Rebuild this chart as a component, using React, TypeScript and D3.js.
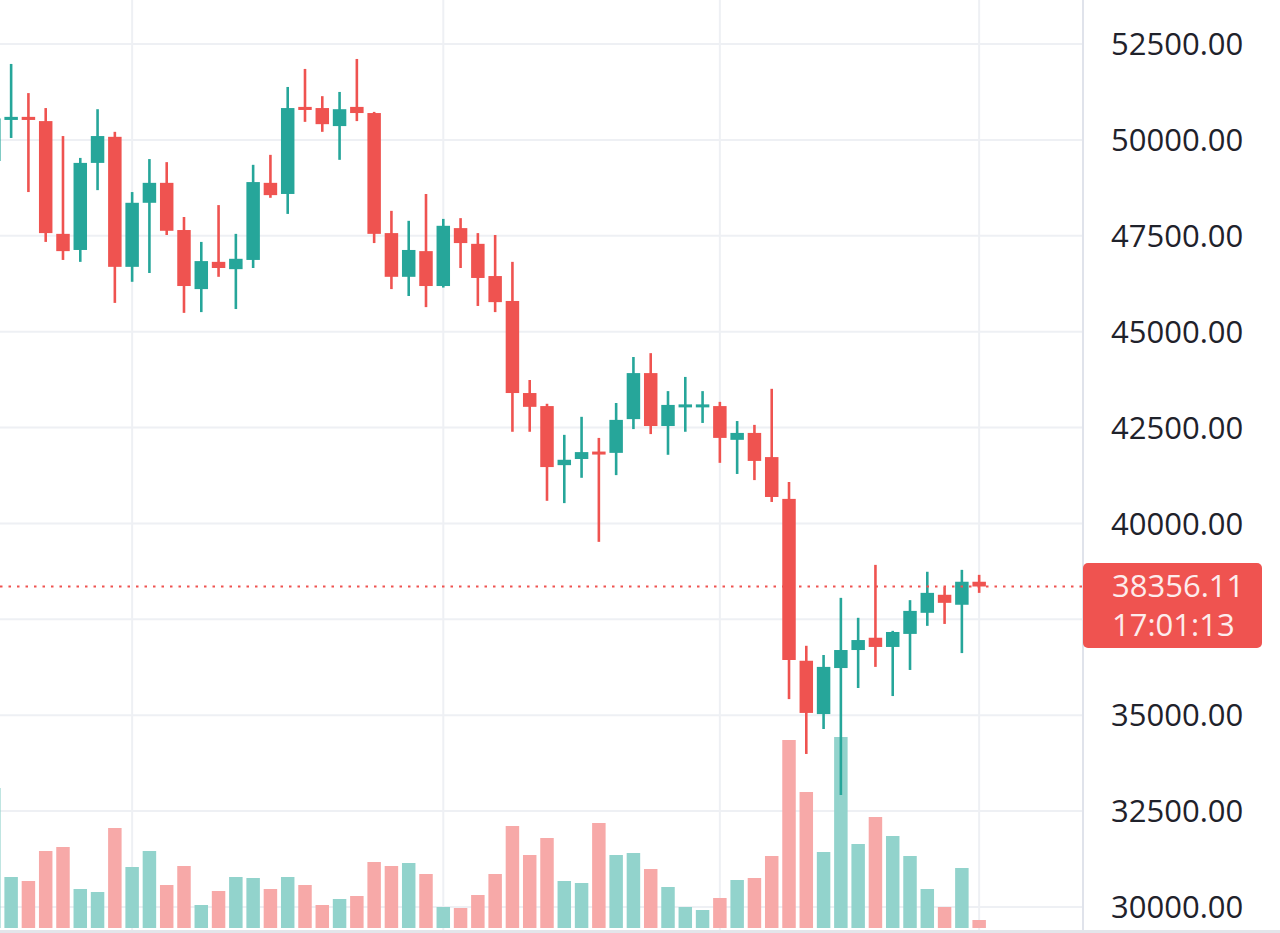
import React from 'react';
import * as d3 from 'd3';

// Daily BTC candles, 2021-12-06 .. 2022-02-01
const dates = [
  '2021-12-06','2021-12-07','2021-12-08','2021-12-09','2021-12-10','2021-12-11','2021-12-12','2021-12-13',
  '2021-12-14','2021-12-15','2021-12-16','2021-12-17','2021-12-18','2021-12-19','2021-12-20','2021-12-21',
  '2021-12-22','2021-12-23','2021-12-24','2021-12-25','2021-12-26','2021-12-27','2021-12-28','2021-12-29',
  '2021-12-30','2021-12-31','2022-01-01','2022-01-02','2022-01-03','2022-01-04','2022-01-05','2022-01-06',
  '2022-01-07','2022-01-08','2022-01-09','2022-01-10','2022-01-11','2022-01-12','2022-01-13','2022-01-14',
  '2022-01-15','2022-01-16','2022-01-17','2022-01-18','2022-01-19','2022-01-20','2022-01-21','2022-01-22',
  '2022-01-23','2022-01-24','2022-01-25','2022-01-26','2022-01-27','2022-01-28','2022-01-29','2022-01-30',
  '2022-01-31','2022-02-01',
];

const opens = [
  49450, 50520, 50600, 50490, 47550, 47130, 49400, 50080, 46690, 48360, 48880, 47650, 46110, 46820, 46630,
  46870, 48880, 48590, 50860, 50830, 50360, 50860, 50700, 47570, 46430, 47100, 46190, 47700, 47290, 46450,
  45800, 43400, 43060, 41520, 41680, 41860, 41840, 42720, 43920, 42540, 43040, 43040, 43060, 42180, 42360,
  41730, 40640, 36420, 35030, 36230, 36700, 37020, 36780, 37120, 37670, 38140, 37880, 38480,
];
const highs = [
  50900, 51980, 51220, 50830, 50100, 49530, 50800, 50210, 48640, 49500, 49420, 47990, 47340, 48300, 47550,
  49350, 49610, 51380, 51850, 51140, 51250, 52110, 50730, 48150, 47890, 48590, 47940, 47960, 47570, 47520,
  46820, 43740, 43120, 42310, 42780, 42230, 43140, 44340, 44440, 43450, 43820, 43450, 43170, 42670, 42570,
  43510, 41080, 36810, 36570, 38060, 37540, 38920, 37200, 38000, 38740, 38340, 38790, 38660,
];
const lows = [
  47100, 50050, 48640, 47340, 46870, 46820, 48690, 45750, 46300, 46530, 47520, 45490, 45510, 46430, 45590,
  46660, 48490, 48070, 50470, 50210, 49480, 50490, 47310, 46110, 45930, 45640, 46150, 46660, 45670, 45510,
  42390, 42390, 40590, 40530, 41190, 39520, 41260, 42460, 42330, 41790, 42390, 42620, 41580, 41290, 41130,
  40560, 35420, 33990, 34640, 32920, 35710, 36260, 35500, 36180, 37330, 37380, 36620, 38190,
];
const closes = [
  50560, 50600, 50520, 47570, 47100, 49400, 50100, 46690, 48360, 48880, 47630, 46190, 46840, 46660, 46900,
  48900, 48560, 50830, 50780, 50410, 50800, 50700, 47550, 46430, 47130, 46190, 47760, 47310, 46400, 45770,
  43400, 43040, 41470, 41660, 41860, 41810, 42700, 43920, 42540, 43090, 43090, 43090, 42230, 42360, 41630,
  40690, 36440, 35060, 36260, 36700, 36960, 36780, 37170, 37720, 38190, 37930, 38480, 38356.11,
];
const volumes = [
  140, 51, 47, 77, 81, 39, 36, 100, 61, 77, 43, 62, 23, 37, 51, 50, 39, 51, 43, 23, 29, 32, 66, 62, 65, 54,
  21, 20, 33, 54, 102, 73, 90, 47, 45, 105, 73, 75, 59, 41, 21, 18, 30, 48, 50, 72, 188, 136, 76, 191, 84,
  111, 92, 72, 39, 21, 60, 8,
];

const priceTicks = [30000, 32500, 35000, 37500, 40000, 42500, 45000, 47500, 50000, 52500];
const timeGridDates = ['2021-12-14', '2022-01-01', '2022-01-17', '2022-02-01'];
const lastPrice = 38356.11;
const countdown = '17:01:13';

const UP = '#26a69a';
const DOWN = '#ef5350';
const UP_VOL = '#92d3cc';
const DOWN_VOL = '#f7a9a8';
const GRID = '#eef0f4';

export default function App() {
  const W = 1280;
  const H = 933;
  const paneRight = 1083;

  const x = d3.scaleBand<string>().domain(dates).range([-14.8, 987.8]).padding(0);
  const bw = x.bandwidth();
  const cx = (d: string) => (x(d) as number) + bw / 2;
  const bodyW = bw * 0.78;
  const y = d3.scaleLinear().domain([30000, 52500]).range([907, 44]);
  const yv = d3.scaleLinear().domain([0, d3.max(volumes) as number]).range([928, 737]);
  const fmt = d3.format('.2f');
  const font = '"Open Sans", "Noto Sans", sans-serif';

  const ly = y(lastPrice);
  const tagTop = 563;
  const tagH = 85;

  return (
    <svg
      width={W}
      height={H}
      style={{ position: 'fixed', left: 0, top: 0, background: '#fff' }}
      xmlns="http://www.w3.org/2000/svg"
    >
      <rect x={0} y={0} width={W} height={H} fill="#fff" />
      {/* horizontal grid */}
      {priceTicks.map((t) => (
        <line key={'h' + t} x1={0} x2={paneRight} y1={y(t)} y2={y(t)} stroke={GRID} strokeWidth={2} />
      ))}
      {/* vertical grid */}
      {timeGridDates.map((d) => (
        <line key={'v' + d} x1={cx(d)} x2={cx(d)} y1={0} y2={930} stroke={GRID} strokeWidth={2} />
      ))}
      {/* volume */}
      {dates.map((d, i) => (
        <rect
          key={'vol' + d}
          x={cx(d) - bodyW / 2}
          y={yv(volumes[i])}
          width={bodyW}
          height={yv(0) - yv(volumes[i])}
          fill={closes[i] >= opens[i] ? UP_VOL : DOWN_VOL}
        />
      ))}
      {/* candles */}
      {dates.map((d, i) => {
        const up = closes[i] >= opens[i];
        const c = up ? UP : DOWN;
        const top = y(Math.max(opens[i], closes[i]));
        const bot = y(Math.min(opens[i], closes[i]));
        const h = Math.max(bot - top, 3);
        return (
          <g key={'c' + d}>
            <line x1={cx(d)} x2={cx(d)} y1={y(highs[i])} y2={y(lows[i])} stroke={c} strokeWidth={2.6} />
            <rect x={cx(d) - bodyW / 2} y={top - (h - (bot - top)) / 2} width={bodyW} height={h} fill={c} />
          </g>
        );
      })}
      {/* last price line */}
      <line x1={0} x2={paneRight} y1={ly} y2={ly} stroke={DOWN} strokeWidth={2.2} strokeDasharray="2.5 6" />
      {/* axis separator */}
      <line x1={paneRight} x2={paneRight} y1={0} y2={H} stroke="#e0e3eb" strokeWidth={2} />
      <rect x={0} y={930} width={W} height={3} fill="#e3e5ea" />
      {/* price labels (those hidden by the last-price tag are not drawn) */}
      {priceTicks
        .filter((t) => y(t) < tagTop - 12 || y(t) > tagTop + tagH + 12)
        .map((t) => (
          <text
            key={'t' + t}
            x={1111}
            y={y(t)}
            dy="0.36em"
            fontFamily={font}
            fontSize={31}
            fill="#1f222b"
          >
            {fmt(t)}
          </text>
        ))}
      {/* last price tag */}
      <rect x={paneRight} y={tagTop} width={179} height={tagH} rx={5} fill={DOWN} />
      <text x={1112} y={586} dy="0.36em" fontFamily={font} fontSize={31} fill="#fdecec">
        {fmt(lastPrice)}
      </text>
      <text x={1112} y={625} dy="0.36em" fontFamily={font} fontSize={31} fill="#fdecec">
        {countdown}
      </text>
    </svg>
  );
}
